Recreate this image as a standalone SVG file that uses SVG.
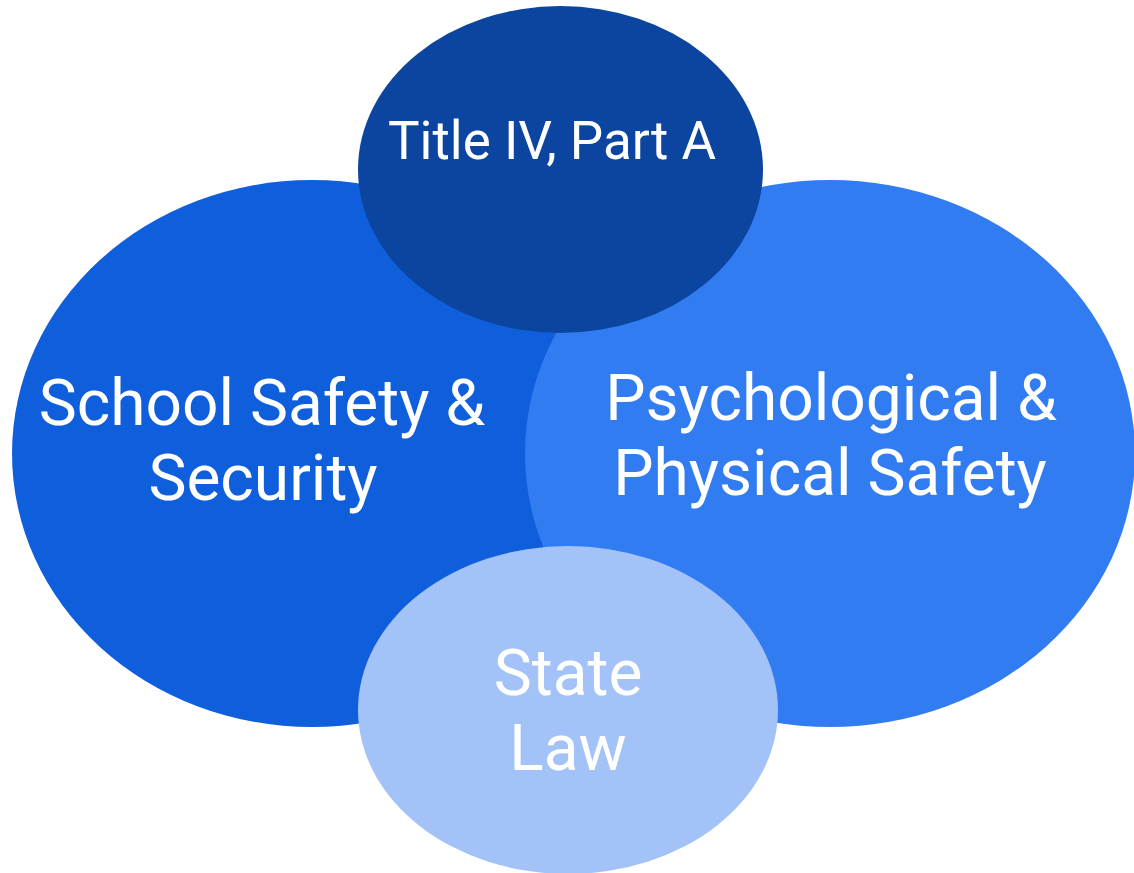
<svg xmlns="http://www.w3.org/2000/svg" width="1134" height="873" viewBox="0 0 1134 873">
  <style>
    .lbl { font-family: Roboto, "Liberation Sans", sans-serif; fill: #ffffff; text-anchor: middle; }
    .big { font-size: 64px; }
    .title { font-size: 53px; }
  </style>
  <rect width="1134" height="873" fill="#ffffff"/>
  <g id="school-safety">
    <ellipse cx="312" cy="453.5" rx="300" ry="273.5" fill="#0F5FDC"/>
    <text class="lbl big" x="262" y="425">School Safety &amp;</text>
    <text class="lbl big" x="263" y="500">Security</text>
  </g>
  <g id="psych-safety">
    <ellipse cx="830" cy="453.5" rx="305" ry="273.5" fill="#327CF2"/>
    <text class="lbl big" x="831" y="420">Psychological &amp;</text>
    <text class="lbl big" x="830" y="495">Physical Safety</text>
  </g>
  <g id="title-iv">
    <ellipse cx="560.5" cy="169.5" rx="202.5" ry="163.5" fill="#0B45A0"/>
    <text class="lbl title" x="552" y="159">Title IV, Part A</text>
  </g>
  <g id="state-law">
    <ellipse cx="568" cy="710" rx="210" ry="164" fill="#A3C3F8"/>
    <text class="lbl big" x="568" y="695">State</text>
    <text class="lbl big" x="568" y="770">Law</text>
  </g>
</svg>
